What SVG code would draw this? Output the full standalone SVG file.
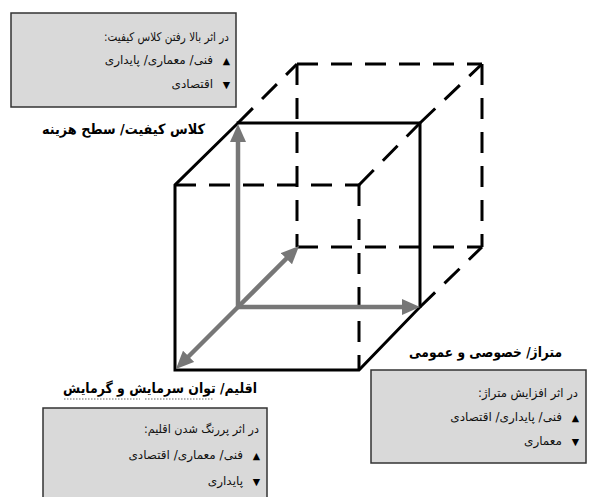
<svg xmlns="http://www.w3.org/2000/svg" width="589" height="497" viewBox="0 0 589 497">
<style>
.solid{stroke:#000;stroke-width:3;fill:none;stroke-linecap:square}
.dash{stroke:#000;stroke-width:3;fill:none;stroke-dasharray:21 13}
.axis{stroke:#777;stroke-width:4.5;fill:none}
.box{fill:#d9d9d9;stroke:#333;stroke-width:1.5}
.t{font-family:"DejaVu Sans",sans-serif;font-size:12px;fill:#111;text-anchor:end}
.h{font-family:"DejaVu Sans",sans-serif;font-size:14px;font-weight:bold;fill:#000;text-anchor:end}
.sym{font-family:"DejaVu Sans",sans-serif;font-size:9.5px;fill:#000;text-anchor:end}
.sq{stroke:#999;stroke-width:1.5;stroke-dasharray:1.5 1.5}
</style>
<defs>
<marker id="ah" markerUnits="userSpaceOnUse" markerWidth="20" markerHeight="16" refX="8" refY="8" orient="auto">
<path d="M0,0 L18,8 L0,16 z" fill="#777"/>
</marker>
</defs>
<g id="connectors">
<g id="cube-dashed">
<line class="dash" x1="175" y1="185" x2="359" y2="185"/>
<line class="dash" x1="359" y1="185" x2="359" y2="370"/>
<line class="dash" x1="238" y1="123" x2="297" y2="64"/>
<line class="dash" x1="297" y1="64" x2="482" y2="64"/>
<line class="dash" x1="482" y1="64" x2="482" y2="247"/>
<line class="dash" x1="297" y1="64" x2="297" y2="247"/>
<line class="dash" x1="297" y1="247" x2="482" y2="247"/>
<line class="dash" x1="420" y1="123" x2="482" y2="64"/>
<line class="dash" x1="420" y1="307" x2="482" y2="247"/>
<line class="dash" x1="359" y1="185" x2="420" y2="123"/>
</g>
<g id="cube-solid">
<polyline class="solid" points="238,123 175,185 175,370 359,370 420,307 420,123 238,123"/>
</g>
<g id="axes">
<line class="axis" x1="238" y1="307" x2="238" y2="134" marker-end="url(#ah)"/>
<line class="axis" x1="238" y1="307" x2="410" y2="307" marker-end="url(#ah)"/>
<line class="axis" x1="238" y1="307" x2="292" y2="253" marker-end="url(#ah)"/>
<line class="axis" x1="238" y1="307" x2="183" y2="362" marker-end="url(#ah)"/>
</g>
</g>
<g id="label-quality">
<text class="h" x="205" y="134" textLength="163" lengthAdjust="spacingAndGlyphs">&#x202B;کلاس کیفیت/ سطح هزینه&#x202C;</text>
</g>
<g id="label-area">
<text class="h" x="562" y="357" textLength="153" lengthAdjust="spacingAndGlyphs">&#x202B;متراژ/ خصوصی و عمومی&#x202C;</text>
</g>
<g id="label-climate">
<text class="h" x="257" y="393" textLength="194" lengthAdjust="spacingAndGlyphs">&#x202B;اقلیم/ توان سرمایش و گرمایش&#x202C;</text>
<line class="sq" x1="64" y1="399" x2="140" y2="399"/>
<line class="sq" x1="145" y1="399" x2="213" y2="399"/>
</g>
<g id="box-quality">
<rect class="box" x="11" y="13" width="225" height="94"/>
<text class="t" x="229" y="41" textLength="125" lengthAdjust="spacingAndGlyphs">&#x202B;در اثر بالا رفتن کلاس کیفیت:&#x202C;</text>
<text class="sym" x="230" y="64">▲</text>
<text class="t" x="213" y="64">&#x202B;فنی/ معماری/ پایداری&#x202C;</text>
<text class="sym" x="230" y="88">▼</text>
<text class="t" x="213" y="88">&#x202B;اقتصادی&#x202C;</text>
</g>
<g id="box-area">
<rect class="box" x="371" y="370" width="215" height="93"/>
<text class="t" x="578" y="397" textLength="100" lengthAdjust="spacingAndGlyphs">&#x202B;در اثر افزایش متراژ:&#x202C;</text>
<text class="sym" x="579" y="421">▲</text>
<text class="t" x="562" y="421">&#x202B;فنی/ پایداری/ اقتصادی&#x202C;</text>
<text class="sym" x="579" y="445">▼</text>
<text class="t" x="562" y="445">&#x202B;معماری&#x202C;</text>
</g>
<g id="box-climate">
<rect class="box" x="43" y="408" width="224" height="95"/>
<text class="t" x="259" y="433" textLength="115" lengthAdjust="spacingAndGlyphs">&#x202B;در اثر پررنگ شدن اقلیم:&#x202C;</text>
<text class="sym" x="260" y="459">▲</text>
<text class="t" x="243" y="459">&#x202B;فنی/ معماری/ اقتصادی&#x202C;</text>
<text class="sym" x="260" y="485">▼</text>
<text class="t" x="243" y="485">&#x202B;پایداری&#x202C;</text>
</g>
</svg>
